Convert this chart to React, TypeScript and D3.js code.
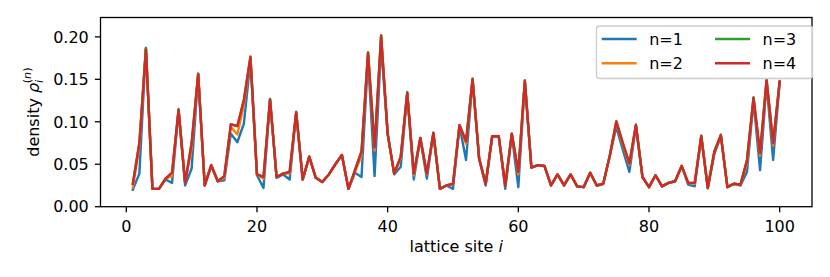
import React, { useEffect, useRef } from "react";
import * as d3 from "d3";

// lattice sites 1..100
const sites: number[] = d3.range(1, 101);

// density per site
const densityN1: number[] = [
  0.020, 0.039, 0.187, 0.021, 0.021, 0.032, 0.028, 0.113, 0.025, 0.045,
  0.155, 0.025, 0.048, 0.030, 0.031, 0.086, 0.076, 0.098, 0.172, 0.037,
  0.022, 0.125, 0.034, 0.038, 0.032, 0.110, 0.032, 0.059, 0.034, 0.029,
  0.038, 0.050, 0.061, 0.021, 0.040, 0.035, 0.175, 0.036, 0.190, 0.086,
  0.038, 0.047, 0.133, 0.032, 0.080, 0.033, 0.086, 0.021, 0.025, 0.021,
  0.095, 0.055, 0.149, 0.056, 0.025, 0.082, 0.083, 0.021, 0.085, 0.023,
  0.147, 0.046, 0.049, 0.048, 0.025, 0.038, 0.025, 0.038, 0.024, 0.023,
  0.040, 0.025, 0.027, 0.060, 0.094, 0.067, 0.041, 0.095, 0.035, 0.023,
  0.037, 0.024, 0.028, 0.030, 0.048, 0.026, 0.024, 0.082, 0.022, 0.062,
  0.083, 0.023, 0.027, 0.025, 0.041, 0.125, 0.043, 0.145, 0.055, 0.146,
];

const densityN2: number[] = [
  0.023, 0.070, 0.186, 0.021, 0.021, 0.033, 0.036, 0.114, 0.029, 0.068,
  0.156, 0.025, 0.049, 0.030, 0.034, 0.094, 0.085, 0.120, 0.175, 0.038,
  0.033, 0.126, 0.035, 0.039, 0.039, 0.111, 0.032, 0.059, 0.034, 0.029,
  0.038, 0.050, 0.061, 0.021, 0.041, 0.060, 0.181, 0.066, 0.201, 0.086,
  0.039, 0.057, 0.134, 0.037, 0.081, 0.038, 0.087, 0.021, 0.025, 0.026,
  0.096, 0.074, 0.150, 0.057, 0.027, 0.083, 0.083, 0.025, 0.086, 0.038,
  0.148, 0.046, 0.049, 0.048, 0.025, 0.038, 0.025, 0.038, 0.024, 0.023,
  0.040, 0.025, 0.027, 0.060, 0.099, 0.073, 0.049, 0.096, 0.035, 0.023,
  0.037, 0.024, 0.028, 0.030, 0.048, 0.028, 0.027, 0.083, 0.022, 0.064,
  0.084, 0.023, 0.027, 0.026, 0.052, 0.127, 0.060, 0.148, 0.072, 0.147,
];

const densityN3: number[] = [
  0.027, 0.075, 0.187, 0.021, 0.021, 0.033, 0.040, 0.115, 0.028, 0.075,
  0.157, 0.025, 0.049, 0.030, 0.036, 0.097, 0.095, 0.126, 0.177, 0.038,
  0.035, 0.127, 0.035, 0.039, 0.041, 0.112, 0.032, 0.059, 0.034, 0.029,
  0.038, 0.050, 0.061, 0.021, 0.043, 0.065, 0.182, 0.070, 0.202, 0.086,
  0.039, 0.059, 0.135, 0.039, 0.081, 0.039, 0.087, 0.021, 0.025, 0.027,
  0.096, 0.077, 0.151, 0.057, 0.027, 0.083, 0.083, 0.025, 0.086, 0.041,
  0.149, 0.046, 0.049, 0.048, 0.025, 0.038, 0.025, 0.038, 0.024, 0.023,
  0.040, 0.025, 0.027, 0.060, 0.101, 0.075, 0.051, 0.097, 0.035, 0.023,
  0.037, 0.024, 0.028, 0.030, 0.048, 0.028, 0.028, 0.084, 0.022, 0.065,
  0.085, 0.023, 0.027, 0.026, 0.055, 0.129, 0.063, 0.150, 0.075, 0.148,
];

const densityN4: number[] = [
  0.027, 0.075, 0.185, 0.021, 0.021, 0.033, 0.040, 0.114, 0.028, 0.075,
  0.156, 0.025, 0.049, 0.030, 0.036, 0.097, 0.095, 0.126, 0.176, 0.038,
  0.035, 0.126, 0.035, 0.039, 0.041, 0.111, 0.032, 0.059, 0.034, 0.029,
  0.038, 0.050, 0.061, 0.021, 0.043, 0.065, 0.181, 0.070, 0.201, 0.086,
  0.039, 0.059, 0.134, 0.039, 0.081, 0.039, 0.087, 0.021, 0.025, 0.027,
  0.096, 0.077, 0.150, 0.057, 0.027, 0.083, 0.083, 0.025, 0.086, 0.041,
  0.148, 0.046, 0.049, 0.048, 0.025, 0.038, 0.025, 0.038, 0.024, 0.023,
  0.040, 0.025, 0.027, 0.060, 0.100, 0.075, 0.051, 0.096, 0.035, 0.023,
  0.037, 0.024, 0.028, 0.030, 0.048, 0.028, 0.028, 0.083, 0.022, 0.065,
  0.084, 0.023, 0.027, 0.026, 0.055, 0.128, 0.063, 0.149, 0.075, 0.147,
];

const seriesLabels = ["n=1", "n=2", "n=3", "n=4"];
const seriesColors = ["#1f77b4", "#ff7f0e", "#2ca02c", "#d62728"];
const xTicks = [0, 20, 40, 60, 80, 100];
const yTicks = [0.0, 0.05, 0.1, 0.15, 0.2];

const FONT = "'DejaVu Sans', sans-serif";
const FS = 16;
const TICK = 5.6;

const App: React.FC = () => {
  const svgRef = useRef<SVGSVGElement>(null);

  useEffect(() => {
    if (!svgRef.current) return;
    const svg = d3.select(svgRef.current);
    svg.selectAll("*").remove();

    const width = 830;
    const height = 277;
    const plot = { left: 100.5, right: 812, top: 17.5, bottom: 206.7 };

    svg.attr("width", width).attr("height", height);

    const x = d3.scaleLinear().domain([-3.95, 104.95]).range([plot.left, plot.right]);
    const y = d3.scaleLinear().domain([0, 0.2228]).range([plot.bottom, plot.top]);

    const allSeries = [densityN1, densityN2, densityN3, densityN4];

    // lines
    const line = d3
      .line<number>()
      .x((_, i) => x(sites[i]))
      .y((d) => y(d));

    allSeries.forEach((values, k) => {
      svg
        .append("path")
        .datum(values)
        .attr("d", line)
        .attr("fill", "none")
        .attr("stroke", seriesColors[k])
        .attr("stroke-width", 2.4)
        .attr("stroke-linejoin", "round")
        .attr("stroke-linecap", "square");
    });

    // frame
    svg
      .append("rect")
      .attr("x", plot.left)
      .attr("y", plot.top)
      .attr("width", plot.right - plot.left)
      .attr("height", plot.bottom - plot.top)
      .attr("fill", "none")
      .attr("stroke", "#000")
      .attr("stroke-width", 1.3);

    // x ticks
    const xg = svg.append("g");
    xTicks.forEach((t) => {
      xg.append("line")
        .attr("x1", x(t))
        .attr("x2", x(t))
        .attr("y1", plot.bottom)
        .attr("y2", plot.bottom + TICK)
        .attr("stroke", "#000")
        .attr("stroke-width", 1.3);
      xg.append("text")
        .attr("x", x(t))
        .attr("y", 231.7)
        .attr("text-anchor", "middle")
        .style("font-family", FONT)
        .style("font-size", `${FS}px`)
        .text(String(t));
    });

    // y ticks
    const yg = svg.append("g");
    yTicks.forEach((t) => {
      yg.append("line")
        .attr("x1", plot.left - TICK)
        .attr("x2", plot.left)
        .attr("y1", y(t))
        .attr("y2", y(t))
        .attr("stroke", "#000")
        .attr("stroke-width", 1.3);
      yg.append("text")
        .attr("x", plot.left - 2 * TICK - 0.5)
        .attr("y", y(t))
        .attr("dy", "0.36em")
        .attr("text-anchor", "end")
        .style("font-family", FONT)
        .style("font-size", `${FS}px`)
        .text(d3.format(".2f")(t));
    });

    // x label
    const xl = svg
      .append("text")
      .attr("x", (plot.left + plot.right) / 2)
      .attr("y", 251.7)
      .attr("text-anchor", "middle")
      .style("font-family", FONT)
      .style("font-size", `${FS}px`);
    xl.append("tspan").text("lattice site ");
    xl.append("tspan").style("font-style", "italic").text("i");

    // y label, rotated
    const small = `${FS * 0.7}px`;
    const yl = svg
      .append("text")
      .attr("transform", `translate(38.5, ${(plot.top + plot.bottom) / 2}) rotate(-90)`)
      .attr("text-anchor", "middle")
      .style("font-family", FONT)
      .style("font-size", `${FS}px`);
    yl.append("tspan").text("density ");
    yl.append("tspan").style("font-style", "italic").text("ρ");
    yl.append("tspan")
      .attr("dy", 4)
      .style("font-style", "italic")
      .style("font-size", small)
      .text("i");
    yl.append("tspan")
      .attr("dx", -3.5)
      .attr("dy", -11.5)
      .style("font-size", small)
      .text("(");
    yl.append("tspan")
      .style("font-style", "italic")
      .style("font-size", small)
      .text("n");
    yl.append("tspan").style("font-size", small).text(")");

    // legend
    const lg = svg.append("g");
    lg.append("rect")
      .attr("x", 596.5)
      .attr("y", 26)
      .attr("width", 216)
      .attr("height", 52.5)
      .attr("rx", 3)
      .attr("fill", "#fff")
      .attr("fill-opacity", 0.8)
      .attr("stroke", "#cccccc")
      .attr("stroke-width", 1.3);

    const colX = [601.7, 715];
    const rowY = [39, 63.3];
    seriesLabels.forEach((label, k) => {
      const cx = colX[Math.floor(k / 2)];
      const cy = rowY[k % 2];
      lg.append("line")
        .attr("x1", cx)
        .attr("x2", cx + 35)
        .attr("y1", cy)
        .attr("y2", cy)
        .attr("stroke", seriesColors[k])
        .attr("stroke-width", 2.4);
      lg.append("text")
        .attr("x", cx + 47.5)
        .attr("y", cy)
        .attr("dy", "0.36em")
        .style("font-family", FONT)
        .style("font-size", `${FS}px`)
        .text(label);
    });
  }, []);

  return (
    <div style={{ position: "absolute", left: 0, top: 0 }}>
      <svg ref={svgRef} style={{ display: "block", background: "#fff" }}></svg>
    </div>
  );
};

export default App;
